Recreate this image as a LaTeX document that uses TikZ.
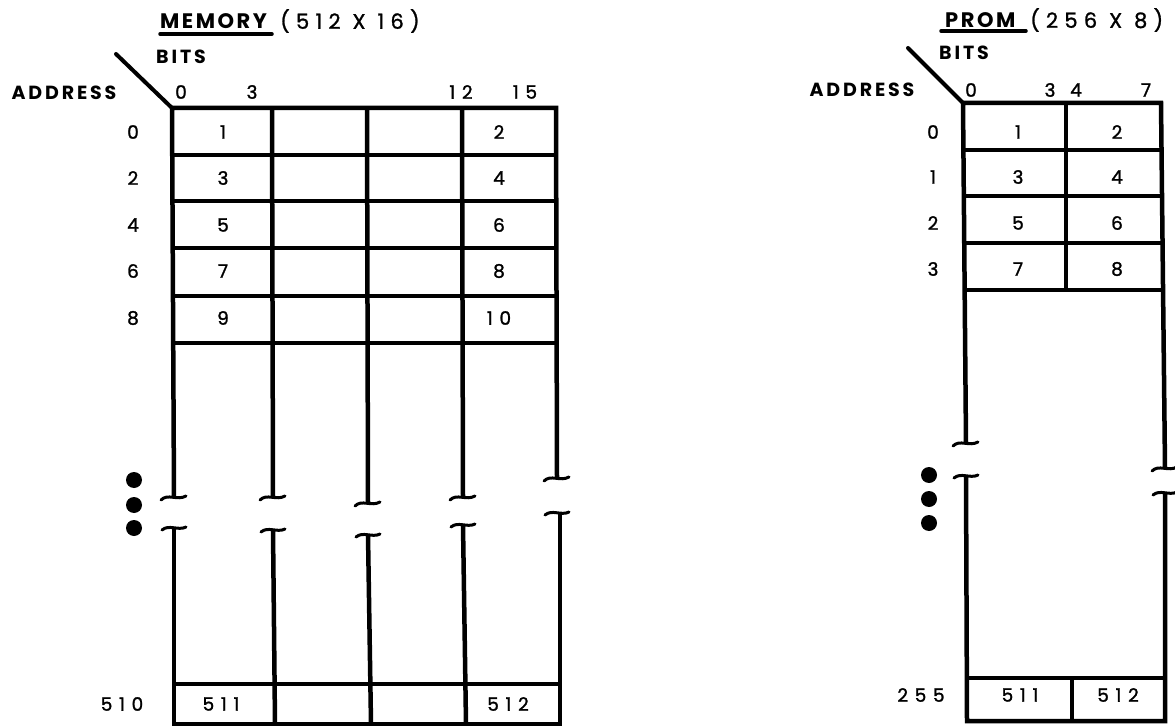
\documentclass[tikz,border=0pt]{standalone}
\usepackage{fontspec}
\setmainfont{Poppins}
\newfontfamily\hdrfont{Poppins}[LetterSpace=15]
\newfontfamily\digfont{Poppins}[LetterSpace=36,FakeBold=1.4]
\newfontfamily\ttlfont{Poppins}[LetterSpace=12]
\newfontfamily\ttrfont{Poppins}[LetterSpace=30,FakeBold=1.2]
\begin{document}
\begin{tikzpicture}[x=1pt,y=-1pt,
  grid/.style={line width=4.5pt},
  brk/.style={line width=3pt,line cap=round},
  diag/.style={line width=4pt,line cap=round},
  uline/.style={line width=3.5pt,line cap=round},
  lbl/.style={inner sep=0pt,font=\digfont\fontsize{18.5}{18.5}\selectfont},
  hdr/.style={inner sep=0pt,font=\hdrfont\bfseries\fontsize{19}{19}\selectfont},
  ttl/.style={inner sep=0pt,font=\ttlfont\bfseries\fontsize{21}{21}\selectfont},
  ttr/.style={inner sep=0pt,font=\ttrfont\fontsize{21}{21}\selectfont},
  dot/.style={circle,fill=black,inner sep=0pt,minimum size=16pt}]
\useasboundingbox (0,0) rectangle (1175,727);
% ---------- MEMORY ----------
\node[ttl,anchor=west] (memt) at (160,21) {MEMORY};
\node[ttr,anchor=west] (mems) at (280,21) {(512 X 16)};
\draw[uline] (160,34) -- (272,34);
\node[hdr] (mbits) at (181,57) {BITS};
\node[hdr] (maddr) at (64,93) {ADDRESS};
\draw[diag] (116,54) -- (172,108);
\node[lbl] (mh0) at (181,92) {0};
\node[lbl] (mh3) at (252,92) {3};
\node[lbl] (mh12) at (461,92) {12};
\node[lbl] (mh15) at (525,92) {15};
% grid lines
\draw[grid] (174,497) -- (172,108) -- (556,108) -- (557,478);
\draw[grid] (174,528) -- (174,724) -- (560,724) -- (560,513);
\draw[grid] (272,108) -- (273,497);
\draw[grid] (273,530) -- (275,724);
\draw[grid] (367,108) -- (368,503);
\draw[grid] (368,535) -- (371,724);
\draw[grid] (462,108) -- (463,497);
\draw[grid] (463,525) -- (466,724);
\foreach \yy in {155,201,248,296,343} \draw[grid] (172,\yy) -- (556,\yy);
\draw[grid] (174,684) -- (560,684);
% breaks
\foreach \xx/\yu/\yl in {174/497/528, 273/497/530, 368/503/535, 463/497/525, 557/478/513} {
  \draw[brk] ({\xx-13},{\yu+3}) .. controls ({\xx-6},{\yu-4}) and ({\xx+3},{\yu+4}) .. ({\xx+12},{\yu-1});
  \draw[brk] ({\xx-12},{\yl+2}) .. controls ({\xx-5},{\yl-4}) and ({\xx+4},{\yl+3}) .. ({\xx+12},{\yl-1});
}
\node[dot] (md1) at (134,480) {};
\node[dot] (md2) at (134,505) {};
\node[dot] (md3) at (134,528) {};
% row labels and cells
\foreach \n/\yy/\a/\b in {0/132/1/2, 2/178/3/4, 4/225/5/6, 6/271/7/8, 8/318/9/10} {
  \node[lbl] (mr\n) at (133,\yy) {\n};
  \node[lbl] (mcl\n) at (223,\yy) {\a};
  \node[lbl] (mcr\n) at (499,\yy) {\b};
}
\node[lbl] (mr510) at (122,704) {510};
\node[lbl] (mc511) at (221,704) {511};
\node[lbl] (mc512) at (508,704) {512};
% ---------- PROM ----------
\node[ttl,anchor=west] (prt) at (945,20) {PROM};
\node[ttr,anchor=west] (prs) at (1030,20) {(256 X 8)};
\draw[uline] (941,31) -- (1026,31);
\node[hdr] (pbits) at (964,53) {BITS};
\node[hdr] (paddr) at (862,90) {ADDRESS};
\draw[diag] (908,48) -- (963,103);
\node[lbl] (ph0) at (971,90) {0};
\node[lbl] (ph3) at (1050,90) {3};
\node[lbl] (ph4) at (1076,90) {4};
\node[lbl] (ph7) at (1146,90) {7};
\draw[grid] (966,443) -- (963,103) -- (1161,103) -- (1165,468);
\draw[grid] (966,476) -- (967,721) -- (1165,721) -- (1165,493);
\draw[grid] (1066,103) -- (1066,290);
\draw[grid] (1072,678) -- (1072,721);
\foreach \yy in {150,196,243,290} \draw[grid] (963,\yy) -- (1162,\yy);
\draw[grid] (967,678) -- (1165,678);
\foreach \xx/\yu/\yl in {966/443/476, 1165/468/493} {
  \draw[brk] ({\xx-13},{\yu+3}) .. controls ({\xx-6},{\yu-4}) and ({\xx+3},{\yu+4}) .. ({\xx+12},{\yu-1});
  \draw[brk] ({\xx-12},{\yl+2}) .. controls ({\xx-5},{\yl-4}) and ({\xx+4},{\yl+3}) .. ({\xx+12},{\yl-1});
}
\node[dot] (pd1) at (929,475) {};
\node[dot] (pd2) at (929,499) {};
\node[dot] (pd3) at (929,523) {};
\foreach \n/\yy/\a/\b in {0/132/1/2, 1/177/3/4, 2/223/5/6, 3/269/7/8} {
  \node[lbl] (pr\n) at (933,\yy) {\n};
  \node[lbl] (pcl\n) at (1018,\yy) {\a};
  \node[lbl] (pcr\n) at (1117,\yy) {\b};
}
\node[lbl] (pr255) at (921,695) {255};
\node[lbl] (pc511) at (1020,695) {511};
\node[lbl] (pc512) at (1118,695) {512};
\end{tikzpicture}
\end{document}
